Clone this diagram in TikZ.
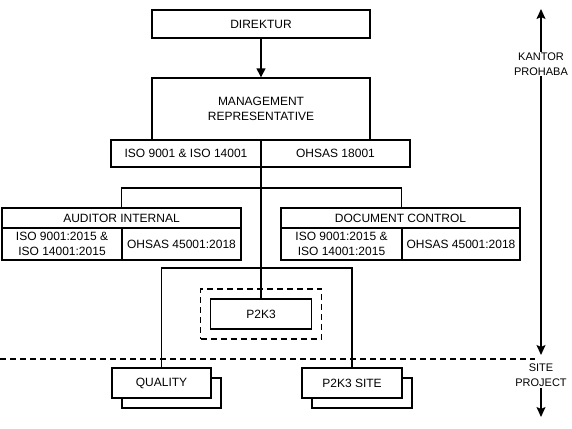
\documentclass[tikz,border=0pt]{standalone}
\usepackage{fontspec}
\setmainfont{Liberation Sans}
\usetikzlibrary{arrows.meta,shadows}
\tikzset{
    box/.style={draw, fill=white, inner sep=1pt, align=center, font=\fontsize{12}{15}\selectfont},
    stackbox/.style={box, copy shadow={shadow xshift=10pt, shadow yshift=-10pt, draw=black, fill=white, line width=1.4pt}},
    dashbox/.style={draw, dash pattern=on 6pt off 4pt},
    sidelabel/.style={fill=white, inner sep=1pt, align=center, font=\fontsize{11}{15}\selectfont},
}
\begin{document}
\begin{tikzpicture}[x=1pt, y=-1pt, line width=1.4pt]
        \useasboundingbox (0,0) rectangle (572,428);

        % kantor
        \node[box, minimum width=218pt, minimum height=28pt] (dir) at (261,24) {DIREKTUR};
        \node[box, minimum width=218pt, minimum height=62pt] (mr) at (261,109) {MANAGEMENT\\REPRESENTATIVE};
        \node[box, minimum width=150pt, minimum height=27pt] (mriso) at (186,153.5) {ISO 9001 \& ISO 14001};
        \node[box, minimum width=149pt, minimum height=27pt] (mroh) at (335.5,153.5) {OHSAS 18001};

        \node[box, minimum width=239pt, minimum height=20pt] (aud) at (121.5,218) {AUDITOR INTERNAL};
        \node[box, minimum width=120pt, minimum height=32pt] (audiso) at (62,244) {ISO 9001:2015 \&\\ISO 14001:2015};
        \node[box, minimum width=119pt, minimum height=32pt] (audoh) at (181.5,244) {OHSAS 45001:2018};

        \node[box, minimum width=239pt, minimum height=20pt] (dc) at (400.5,218) {DOCUMENT CONTROL};
        \node[box, minimum width=121pt, minimum height=32pt] (dciso) at (341.5,244) {ISO 9001:2015 \&\\ISO 14001:2015};
        \node[box, minimum width=118pt, minimum height=32pt] (dcoh) at (461,244) {OHSAS 45001:2018};

        \node[dashbox, minimum width=121pt, minimum height=50pt] (p2k3frame) at (261,314) {};
        \node[box, minimum width=101pt, minimum height=30pt] (p2k3) at (261,314) {P2K3};

        % site
        \node[stackbox, minimum width=99pt, minimum height=30pt] (qual) at (161.5,383) {QUALITY};
        \node[stackbox, minimum width=100pt, minimum height=30pt] (site) at (352,383) {P2K3 SITE};

        \coordinate (br) at (261,188);
        \coordinate (lo) at (261,268);

        \draw[-{Triangle[length=9pt, width=9pt]}] (dir) -- (mr);
        \draw (mr.south) -- (p2k3.north);
        \draw (audoh.west |- aud.north) |- (br) -| (dcoh.west |- dc.north);
        \draw (qual.north) |- (lo) -| (site.north);

        \draw[dashbox] (0,359) -- (535,359);

        % batas kantor / site
        \coordinate (top) at (541,9);
        \coordinate (mid) at (541,355);
        \coordinate (bot) at (541,417);
        \draw[{Stealth[length=10pt, width=9pt, inset=2pt]}-{Stealth[length=10pt, width=9pt, inset=2pt]}] (top) -- (mid);
        \node[sidelabel] (kantor) at (541,64) {KANTOR\\PROHABA};
        \node[sidelabel] (siteproj) at (541,375) {SITE\\PROJECT};
        \draw[-{Stealth[length=10pt, width=9pt, inset=2pt]}] (siteproj.south -| bot) -- (bot);
    \end{tikzpicture}
\end{document}
